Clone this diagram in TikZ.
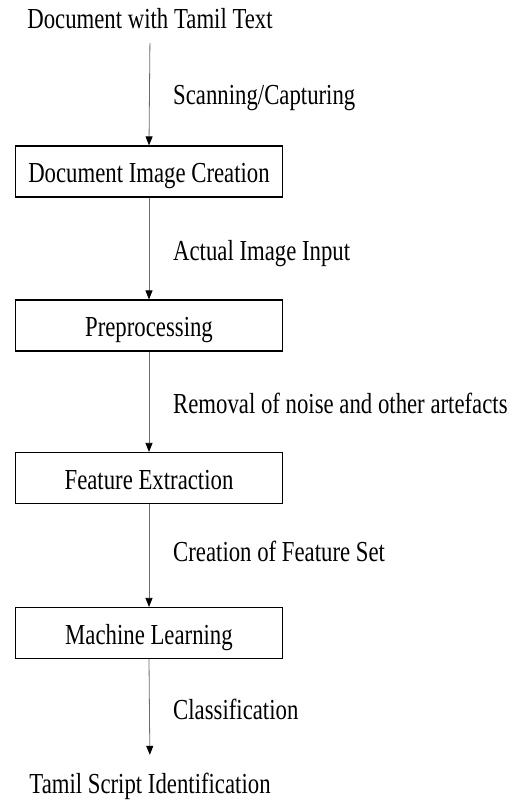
\documentclass[tikz,border=0pt]{standalone}
\usepackage{fontspec}
\setmainfont{Liberation Serif}[FakeStretch=0.785]
\usetikzlibrary{arrows.meta}

\tikzset{
  lbl/.style={font=\fontsize{29}{34}\selectfont, inner sep=0pt,
              text height=19pt, text depth=6pt},
  stage/.style={draw=black, line width=1.2pt, font=\fontsize{29}{34}\selectfont,
                minimum width=267pt, minimum height=51pt, inner sep=0pt,
                text height=22pt, text depth=0pt},
  flow/.style={draw=gray!85!black, line width=0.8pt,
               -{Triangle[width=7pt,length=9pt,color=black]}}
}

\begin{document}
\begin{tikzpicture}[x=1pt,y=-1pt]
  \useasboundingbox (0,0) rectangle (520,803);

  % input and output texts
  \node[lbl, anchor=base] (doc) at (150,28) {Document with Tamil Text};
  \node[lbl, anchor=base] (tsi) at (150,793) {Tamil Script Identification};

  % processing stages
  \node[stage] (dic)  at (149,171.5) {Document Image Creation};
  \node[stage] (pre)  at (149,325.5) {Preprocessing};
  \node[stage] (feat) at (149,478)   {Feature Extraction};
  \node[stage] (ml)   at (149,633)   {Machine Learning};

  % flow between stages
  \draw[flow, shorten <=9pt] (doc.south) -- (dic.north);
  \draw[flow] (dic.south) -- (pre.north);
  \draw[flow] (pre.south) -- (feat.north);
  \draw[flow] (feat.south) -- (ml.north);
  \draw[flow, shorten >=19pt] (ml.south) -- (tsi.north);

  % step descriptions
  \node[lbl, anchor=base west] (s1) at (173,104) {Scanning/Capturing};
  \node[lbl, anchor=base west] (s2) at (173,260) {Actual Image Input};
  \node[lbl, anchor=base west] (s3) at (173,413) {Removal of noise and other artefacts};
  \node[lbl, anchor=base west] (s4) at (173,561) {Creation of Feature Set};
  \node[lbl, anchor=base west] (s5) at (173,719) {Classification};
\end{tikzpicture}
\end{document}
